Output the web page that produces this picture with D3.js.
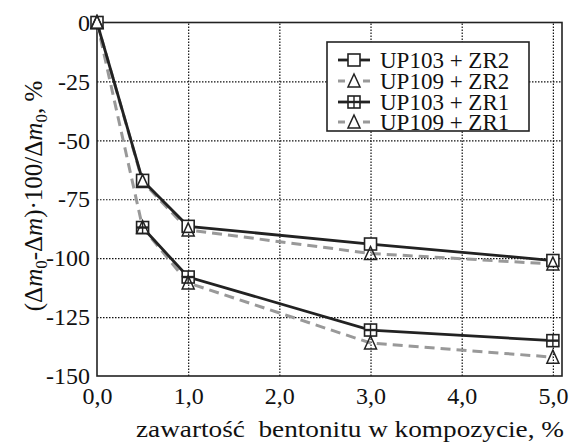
<!DOCTYPE html>
<html>
<head>
<meta charset="utf-8">
<script src="https://cdn.jsdelivr.net/npm/d3@7"></script>
<style>
  body { margin: 0; background: #fff; }
  text { font-family: "Liberation Serif", "Times New Roman", serif; fill: #111; }
</style>
</head>
<body>
<div id="chart-area"></div>
<script>
// data
const xValues = [0, 0.5, 1, 3, 5];
const up103zr2 = [0, -67, -86.5, -94, -101];
const up109zr2 = [0, -67.5, -88, -98, -102.5];
const up103zr1 = [null, -87, -108, -130.5, -135];
const up109zr1 = [0, -87, -110.5, -136, -142];
const seriesNames = ["UP103 + ZR2", "UP109 + ZR2", "UP103 + ZR1", "UP109 + ZR1"];
const xTicks = [0, 1, 2, 3, 4, 5];
const yTicks = [0, -25, -50, -75, -100, -125, -150];

// chart attributes
const totalWidth = 570, totalHeight = 445;
const plot = { LEFT: 97, TOP: 22.5, RIGHT: 562, BOTTOM: 376 };

let svg = d3.select("#chart-area").append("svg")
            .attr("width", totalWidth)
            .attr("height", totalHeight);

svg.append("rect")
   .attr("width", totalWidth).attr("height", totalHeight)
   .attr("fill", "#fff");

var x = d3.scaleLinear().domain([0, 5.1]).range([plot.LEFT, plot.RIGHT]);
var y = d3.scaleLinear().domain([-150, 0]).range([plot.BOTTOM, plot.TOP]);

// grid (dotted)
svg.append("g")
   .attr("transform", `translate(0,${plot.BOTTOM})`)
   .call(d3.axisBottom(x).tickValues(xTicks.slice(1)).tickSize(-(plot.BOTTOM - plot.TOP)).tickFormat(""))
   .call(g => g.select(".domain").remove())
   .selectAll("line")
   .attr("stroke", "#111").attr("stroke-width", 1.2).attr("stroke-dasharray", "1.5,1.5");

svg.append("g")
   .attr("transform", `translate(${plot.LEFT},0)`)
   .call(d3.axisLeft(y).tickValues(yTicks.slice(1, -1)).tickSize(-(plot.RIGHT - plot.LEFT)).tickFormat(""))
   .call(g => g.select(".domain").remove())
   .selectAll("line")
   .attr("stroke", "#111").attr("stroke-width", 1.2).attr("stroke-dasharray", "1.5,1.5");

// frame
svg.append("rect")
   .attr("x", plot.LEFT).attr("y", plot.TOP)
   .attr("width", plot.RIGHT - plot.LEFT).attr("height", plot.BOTTOM - plot.TOP)
   .attr("fill", "none").attr("stroke", "#222").attr("stroke-width", 1.6);

// tick labels
let xAxis = svg.append("g")
   .attr("transform", `translate(0,${plot.BOTTOM})`)
   .call(d3.axisBottom(x).tickValues(xTicks).tickSize(0).tickPadding(11)
           .tickFormat(d => d.toFixed(1).replace(".", ",")));
xAxis.select(".domain").remove();
xAxis.selectAll("text").attr("font-size", "24px").attr("fill", "#111");

let yAxis = svg.append("g")
   .attr("transform", `translate(${plot.LEFT},0)`)
   .call(d3.axisLeft(y).tickValues(yTicks).tickSize(0).tickPadding(7)
           .tickFormat(d => String(d)));
yAxis.select(".domain").remove();
yAxis.selectAll("text").attr("font-size", "24px").attr("fill", "#111");

// axis labels
svg.append("text")
   .attr("x", 350).attr("y", 437)
   .attr("font-size", "24px")
   .attr("text-anchor", "middle")
   .attr("textLength", 428)
   .attr("lengthAdjust", "spacingAndGlyphs")
   .style("white-space", "pre")
   .text("zawartość  bentonitu w kompozycie, %");

let yLabel = svg.append("text")
   .attr("transform", `translate(42,196) rotate(-90)`)
   .attr("font-size", "25px")
   .attr("text-anchor", "middle");
yLabel.append("tspan").text("(Δ");
yLabel.append("tspan").attr("font-style", "italic").text("m");
yLabel.append("tspan").attr("font-size", "17px").attr("dy", 5).text("0");
yLabel.append("tspan").attr("dy", -5).text("-Δ");
yLabel.append("tspan").attr("font-style", "italic").text("m");
yLabel.append("tspan").text(")·100/Δ");
yLabel.append("tspan").attr("font-style", "italic").text("m");
yLabel.append("tspan").attr("font-size", "17px").attr("dy", 5).text("0");
yLabel.append("tspan").attr("dy", -5).text(", %");

// series
function points(vals) {
	return xValues.map((xv, i) => [xv, vals[i]]).filter(p => p[1] !== null);
}
var line = d3.line().x(d => x(d[0])).y(d => y(d[1]));

const grayStyle = { stroke: "#999", width: 3, dash: "10,6" };
const blackStyle = { stroke: "#222", width: 2.8, dash: null };

[up109zr2, up109zr1].forEach(function(vals) {
	svg.append("path")
	   .attr("d", line(points(vals)))
	   .attr("fill", "none")
	   .attr("stroke", grayStyle.stroke)
	   .attr("stroke-width", grayStyle.width)
	   .attr("stroke-dasharray", grayStyle.dash);
});
[up103zr2, up103zr1].forEach(function(vals) {
	svg.append("path")
	   .attr("d", line(points(vals)))
	   .attr("fill", "none")
	   .attr("stroke", blackStyle.stroke)
	   .attr("stroke-width", blackStyle.width);
});

// markers
const sq = 12, tri = 12;
function drawSquare(g, cx, cy, cross) {
	g.append("rect")
	 .attr("x", cx - sq / 2).attr("y", cy - sq / 2)
	 .attr("width", sq).attr("height", sq)
	 .attr("fill", "#fff").attr("stroke", "#222").attr("stroke-width", 1.6);
	if (cross) {
		g.append("line").attr("x1", cx).attr("x2", cx).attr("y1", cy - sq / 2).attr("y2", cy + sq / 2)
		 .attr("stroke", "#222").attr("stroke-width", 1.4);
		g.append("line").attr("x1", cx - sq / 2).attr("x2", cx + sq / 2).attr("y1", cy).attr("y2", cy)
		 .attr("stroke", "#222").attr("stroke-width", 2.4);
	}
}
function drawTriangle(g, cx, cy) {
	g.append("path")
	 .attr("d", `M${cx},${cy - tri / 2 - 1}L${cx + tri / 2},${cy + tri / 2}L${cx - tri / 2},${cy + tri / 2}Z`)
	 .attr("fill", "none").attr("stroke", "#222").attr("stroke-width", 1.5);
}

let marks = svg.append("g");
points(up103zr2).forEach(p => drawSquare(marks, x(p[0]), y(p[1]), false));
points(up103zr1).forEach(p => drawSquare(marks, x(p[0]), y(p[1]), true));
points(up109zr2).forEach(p => drawTriangle(marks, x(p[0]), y(p[1])));
points(up109zr1).forEach(p => drawTriangle(marks, x(p[0]), y(p[1])));

// legend
let legend = svg.append("g");
legend.append("rect")
      .attr("x", 327).attr("y", 42).attr("width", 202).attr("height", 89)
      .attr("fill", "#fff").attr("stroke", "#222").attr("stroke-width", 1.6);

const legendRows = [60, 81, 102, 122];
seriesNames.forEach(function(name, i) {
	let cy = legendRows[i], cx = 354;
	let isGray = (i % 2 == 1);
	if (isGray) {
		legend.append("line").attr("x1", 338).attr("x2", 345).attr("y1", cy).attr("y2", cy)
		      .attr("stroke", grayStyle.stroke).attr("stroke-width", grayStyle.width);
		legend.append("line").attr("x1", 363).attr("x2", 370).attr("y1", cy).attr("y2", cy)
		      .attr("stroke", grayStyle.stroke).attr("stroke-width", grayStyle.width);
		drawTriangle(legend, cx, cy);
	} else {
		legend.append("line").attr("x1", 338).attr("x2", 370).attr("y1", cy).attr("y2", cy)
		      .attr("stroke", blackStyle.stroke).attr("stroke-width", blackStyle.width);
		drawSquare(legend, cx, cy, i == 2);
	}
	legend.append("text")
	      .attr("x", 380).attr("y", cy)
	      .attr("dy", "0.35em")
	      .attr("font-size", "23px")
	      .text(name);
});
</script>
</body>
</html>
